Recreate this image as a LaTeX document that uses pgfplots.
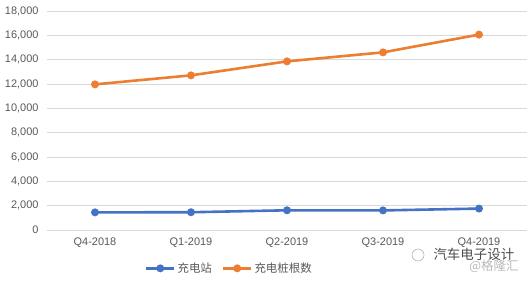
\documentclass[border=0pt]{standalone}
\usepackage{pgfplots}
\pgfplotsset{compat=1.18}
\usepackage{fontspec}
\setmainfont{Liberation Sans}
\newfontfamily\cjk{Noto Sans CJK SC}
\definecolor{cblue}{HTML}{4472C4}
\definecolor{corange}{HTML}{ED7D31}
\definecolor{tgray}{HTML}{595959}
\definecolor{ggray}{HTML}{D9D9D9}
\begin{document}
\begin{tikzpicture}[x=1bp,y=1bp]
\path (0,0) rectangle (529,280);
\begin{axis}[
  at={(47bp,50bp)}, anchor=south west,
  scale only axis, width=480bp, height=219bp,
  xmin=-0.5, xmax=4.5, ymin=0, ymax=18000,
  xtick={0,1,2,3,4},
  xticklabels={Q4-2018,Q1-2019,Q2-2019,Q3-2019,Q4-2019},
  ytick={0,2000,...,18000},
  scaled y ticks=false,
  /pgf/number format/.cd, 1000 sep={,}, assume math mode=true, /pgfplots/.cd,
  yticklabel style={font=\fontsize{11}{12}\selectfont, text=tgray, xshift=-5bp},
  xticklabel style={font=\fontsize{11}{12}\selectfont, text=tgray, yshift=-4bp},
  axis line style={draw=none},
  ymajorgrids, grid style={ggray, line width=0.75bp},
  major tick length=0pt,
  legend columns=2,
  legend style={at={(0.38,-0.175)}, anchor=center, draw=none, fill=none,
    font=\cjk\fontsize{11.5}{12}\selectfont, text=tgray,
    /tikz/every even column/.append style={column sep=8bp}},
  legend image code/.code={\draw[#1] (0bp,0bp) -- (28bp,0bp); \draw[#1,mark repeat=1] plot coordinates {(14bp,0bp)};},
  clip=false,
]
\addplot[cblue, line width=2.6bp, mark=*, mark size=2.6bp] coordinates {(0,1450) (1,1460) (2,1620) (3,1610) (4,1760)};
\addlegendentry{充电站}
\addplot[corange, line width=2.6bp, mark=*, mark size=2.6bp] coordinates {(0,11970) (1,12710) (2,13860) (3,14600) (4,16060)};
\addlegendentry{充电桩根数}
\end{axis}
\node[anchor=west, font=\cjk\fontsize{13.5}{14}\selectfont, text=black!70] at (430bp,26bp) {汽车电子设计};
\draw[gray!60, line width=0.6bp] (418bp,25bp) circle (6bp);
\node[anchor=east, font=\cjk\fontsize{12.5}{13}\selectfont, text=gray!55] at (522bp,14bp) {@格隆汇};
\end{tikzpicture}
\end{document}
